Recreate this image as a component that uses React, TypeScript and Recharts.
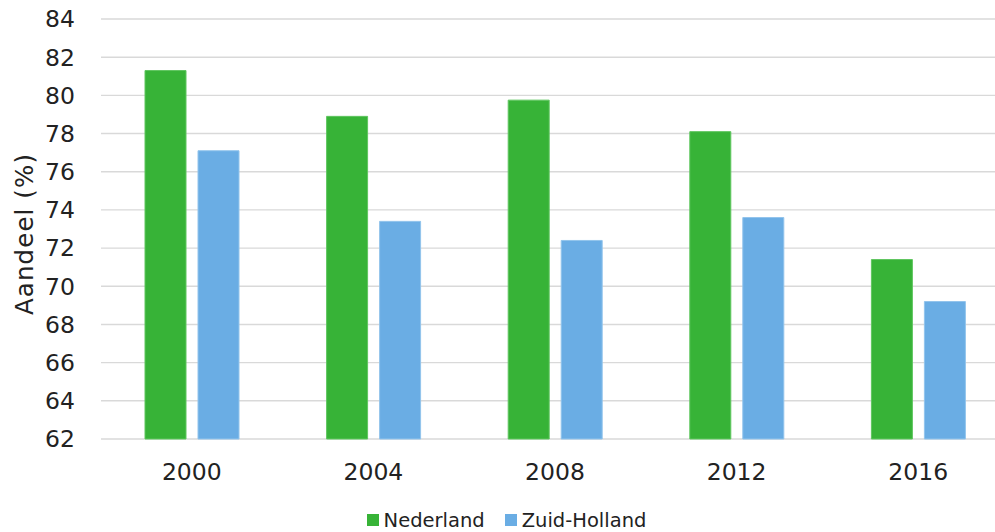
import React from "react"
import { BarChart, Bar, XAxis, YAxis, CartesianGrid, Legend } from "recharts"

// Share per year, in percent
const years = ["2000", "2004", "2008", "2012", "2016"]
const nederland = [81.3, 78.9, 79.75, 78.1, 71.4]
const zuidHolland = [77.1, 73.4, 72.4, 73.6, 69.2]
const yTicks = [62, 64, 66, 68, 70, 72, 74, 76, 78, 80, 82, 84]

const FONT = "'DejaVu Sans', Verdana, sans-serif"
const GREEN = "#37b337"
const BLUE = "#6aade4"

const data = years.map((year, i) => ({
  year,
  nederland: nederland[i],
  zuidHolland: zuidHolland[i],
}))

function YLabel() {
  return (
    <text
      x={24}
      y={234}
      transform="rotate(-90 24 234)"
      textAnchor="middle"
      dominantBaseline="central"
      fontFamily={FONT}
      fontSize={24.5}
      letterSpacing={1.1}
      fill="#222"
    >
      Aandeel (%)
    </text>
  )
}

function LegendContent() {
  const items = [
    { label: "Nederland", color: GREEN },
    { label: "Zuid-Holland", color: BLUE },
  ]
  return (
    <div
      style={{
        height: 24,
        display: "flex",
        justifyContent: "center",
        alignItems: "center",
        paddingLeft: 4,
        fontFamily: FONT,
        fontSize: 19.5,
        color: "#222",
      }}
    >
      {items.map((item, i) => (
        <span
          key={item.label}
          style={{ display: "flex", alignItems: "center", marginLeft: i ? 20 : 0 }}
        >
          <span
            style={{ width: 12, height: 12, background: item.color, marginRight: 5, display: "inline-block" }}
          />
          {item.label}
        </span>
      ))}
    </div>
  )
}

export default function App() {
  return (
    <div
      style={{
        position: "fixed",
        left: 0,
        top: 0,
        width: 995,
        height: 532,
        overflow: "hidden",
        background: "#fff",
      }}
    >
      <BarChart
        width={1010}
        height={532}
        data={data}
        margin={{ top: 19, right: 1, left: 0, bottom: 0 }}
        barSize={41}
        barGap={12}
      >
        <CartesianGrid vertical={false} stroke="#d9d9d9" strokeWidth={1.4} />
        <XAxis
          dataKey="year"
          axisLine={false}
          tickLine={false}
          tickSize={0}
          tickMargin={24}
          height={69}
          tick={{ fontFamily: FONT, fontSize: 23.5, fill: "#222" }}
        />
        <YAxis
          domain={[62, 84]}
          ticks={yTicks}
          interval={0}
          axisLine={false}
          tickLine={false}
          tickSize={0}
          tickMargin={26}
          width={101}
          tick={{ fontFamily: FONT, fontSize: 23.5, fill: "#222" }}
          label={{ content: YLabel }}
        />
        <Legend verticalAlign="bottom" content={LegendContent} />
        <Bar
          dataKey="nederland"
          name="Nederland"
          fill={GREEN}
          stroke="#5fc65f"
          strokeWidth={1}
          isAnimationActive={false}
        />
        <Bar
          dataKey="zuidHolland"
          name="Zuid-Holland"
          fill={BLUE}
          stroke="#92c4ec"
          strokeWidth={1}
          isAnimationActive={false}
        />
      </BarChart>
    </div>
  )
}
